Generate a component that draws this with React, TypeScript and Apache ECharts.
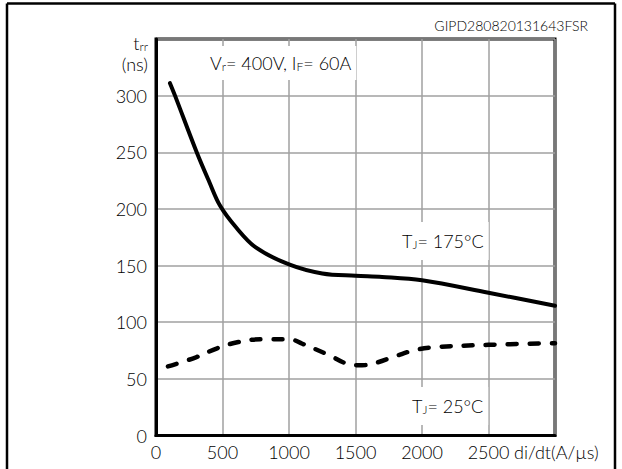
import React, { useEffect, useRef } from "react";
import * as echarts from "echarts";

// T_J = 175°C (solid)
const hotX = [105, 143, 306, 400, 481, 600, 750, 1000, 1250, 1500, 1700, 2000, 2500, 3000];
const hotY = [311, 300, 250, 224, 203, 184, 166, 151, 143, 141, 140, 137, 126, 114.5];
// T_J = 25°C (dashed)
const coldX = [90, 300, 460, 620, 800, 1000, 1100, 1300, 1450, 1550, 1650, 1800, 1950, 2100, 2500, 3000];
const coldY = [61, 69, 77, 82.5, 85, 85, 81, 71, 63, 62, 64, 70, 75.5, 78, 80, 81.5];

const xTickLabels = ["0", "500", "1000", "1500", "2000", "2500"];
const yTickLabels = ["0", "50", "100", "150", "200", "250", "300"];

const FONT = "Lato, 'Open Sans', sans-serif";
const W = 300;

export default function App() {
  const ref = useRef<HTMLDivElement>(null);
  useEffect(() => {
    document.body.style.margin = "0";
    const chart = echarts.init(ref.current!, null, { renderer: "svg" });
    const pairs = (xs: number[], ys: number[]) => xs.map((x, i) => [x, ys[i]]);
    const rich = {
      a: { fontSize: 18, fontFamily: FONT, fontWeight: W, color: "#000", verticalAlign: "bottom" },
      s: { fontSize: 12, fontFamily: FONT, fontWeight: W, color: "#000", verticalAlign: "bottom" },
    };
    chart.setOption({
      animation: false,
      backgroundColor: "#fff",
      grid: {
        left: 156,
        top: 39,
        right: 67,
        bottom: 33.5,
        show: true,
        borderColor: "#000",
        borderWidth: 3,
      },
      xAxis: {
        type: "value",
        min: 0,
        max: 3000,
        interval: 500,
        axisLine: { show: true, lineStyle: { color: "#000", width: 3 } },
        axisTick: { show: false },
        splitLine: { show: true, lineStyle: { color: "#a0a0a0", width: 1.5 } },
        axisLabel: {
          color: "#000",
          fontSize: 18,
          fontWeight: W,
          fontFamily: FONT,
          margin: 7,
          formatter: (v: number) => xTickLabels[Math.round(v / 500)] ?? "",
        },
      },
      yAxis: {
        type: "value",
        min: 0,
        max: 350,
        interval: 50,
        axisLine: { show: true, lineStyle: { color: "#000", width: 3 } },
        axisTick: { show: false },
        splitLine: { show: true, lineStyle: { color: "#a0a0a0", width: 1.5 } },
        axisLabel: {
          color: "#000",
          fontSize: 18,
          fontWeight: W,
          fontFamily: FONT,
          margin: 9,
          formatter: (v: number) => yTickLabels[Math.round(v / 50)] ?? "",
        },
      },
      series: [
        {
          type: "line",
          data: pairs(hotX, hotY),
          smooth: 0.35,
          showSymbol: false,
          symbol: "none",
          lineStyle: { color: "#000", width: 4, cap: "round" },
          z: 5,
        },
        {
          type: "line",
          data: pairs(coldX, coldY),
          smooth: 0.4,
          showSymbol: false,
          symbol: "none",
          lineStyle: { color: "#000", width: 4.5, type: [9, 13], cap: "round" },
          z: 5,
        },
      ],
      graphic: [
        { type: "line", z: 100, shape: { x1: 7, y1: 3.5, x2: 615, y2: 3.5 }, style: { stroke: "#000", lineWidth: 2.5 } },
        { type: "line", z: 100, shape: { x1: 7, y1: 3.5, x2: 7, y2: 469 }, style: { stroke: "#000", lineWidth: 2.5 } },
        { type: "line", z: 100, shape: { x1: 615, y1: 3.5, x2: 615, y2: 469 }, style: { stroke: "#000", lineWidth: 2.5 } },
        {
          type: "text", z: 100, x: 588, y: 25,
          style: { text: "GIPD280820131643FSR", font: `${W} 14px ${FONT}`, fill: "#000", align: "right", verticalAlign: "middle" },
        },
        {
          type: "text", z: 100, x: 148, y: 43,
          style: { text: "{a|t}{s|rr}", rich, align: "right", verticalAlign: "middle" },
        },
        {
          type: "text", z: 100, x: 148, y: 64,
          style: { text: "(ns)", font: `${W} 18px ${FONT}`, fill: "#000", align: "right", verticalAlign: "middle" },
        },
        {
          type: "text", z: 100, x: 205, y: 63,
          style: {
            text: "{a|V}{s|r}{a|= 400V, I}{s|F}{a|= 60A}", rich, align: "left", verticalAlign: "middle",
            backgroundColor: "#fff", padding: [8, 5, 8, 5],
          },
        },
        {
          type: "text", z: 100, x: 397, y: 241,
          style: {
            text: "{a|T}{s|J}{a|= 175°C}", rich, align: "left", verticalAlign: "middle",
            backgroundColor: "#fff", padding: [10, 5, 10, 5],
          },
        },
        {
          type: "text", z: 100, x: 407, y: 406,
          style: {
            text: "{a|T}{s|J}{a|= 25°C}", rich, align: "left", verticalAlign: "middle",
            backgroundColor: "#fff", padding: [10, 5, 10, 5],
          },
        },
        {
          type: "text", z: 100, x: 514, y: 452,
          style: { text: "di/dt(A/µs)", font: `${W} 18px ${FONT}`, fill: "#000", align: "left", verticalAlign: "middle" },
        },
      ],
    });
    return () => chart.dispose();
  }, []);
  return <div ref={ref} style={{ width: 622, height: 469 }} />;
}
